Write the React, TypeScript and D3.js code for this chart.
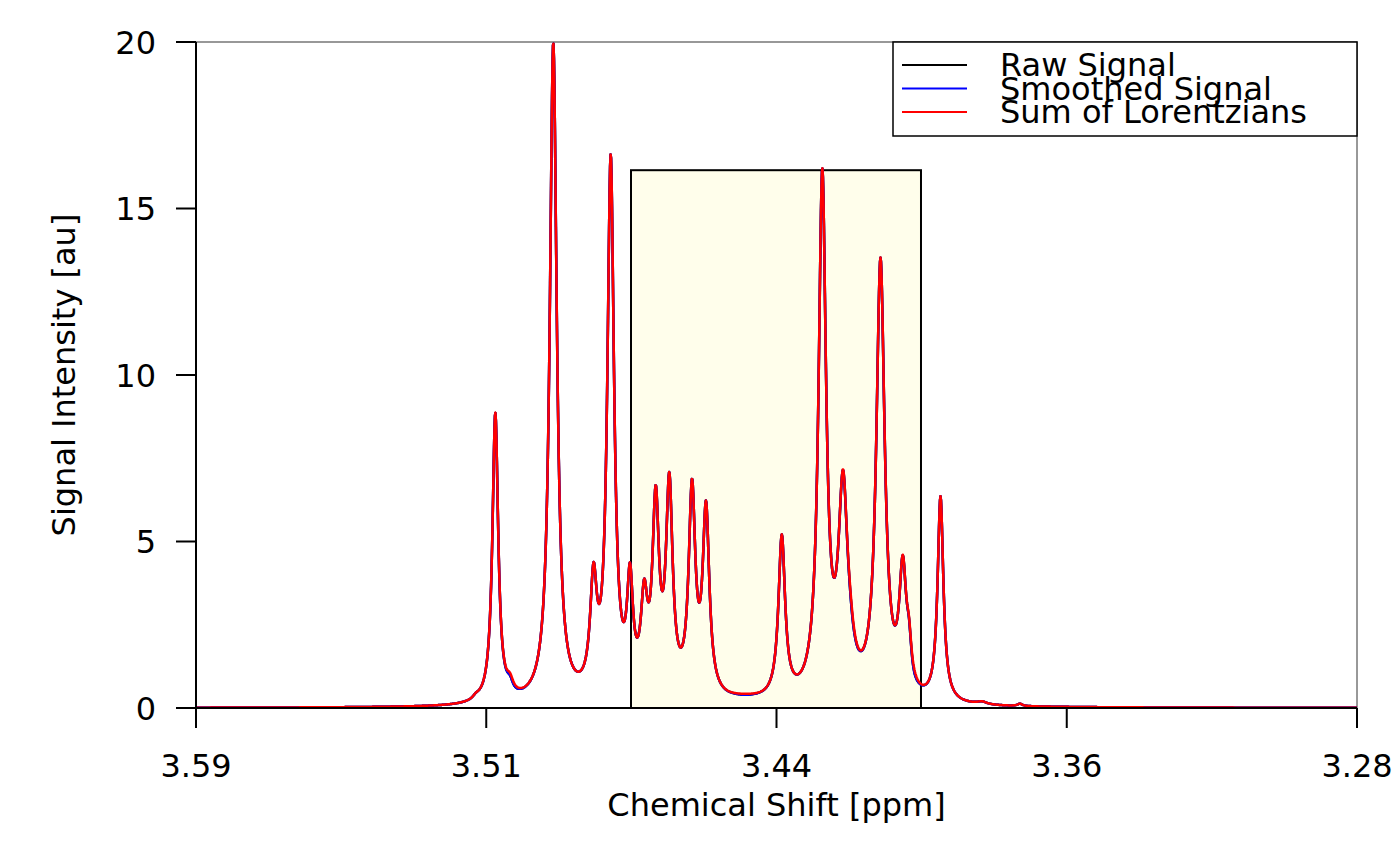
import React from "react";
import * as d3 from "d3";

// ---- Data ----
// Fitted Lorentzian components: chemical shift (ppm), height (au), half width (ppm)
const peakShift = [
  3.51524, 3.51008, 3.50616, 3.4946, 3.48386, 3.47927, 3.47412, 3.47033, 3.46725,
  3.46362, 3.45756, 3.45382, 3.44341, 3.43359, 3.42277, 3.41724, 3.41537, 3.40723,
  3.40128, 3.39962, 3.39121, 3.38013, 3.36998,
];
const peakHeight = [
  0.09, 8.7, 0.35, 19.8, 3.2, 16.1, 3.15, 2.55, 5.55,
  6.15, 6.06, 5.5, 0.12, 4.83, 15.6, 5.95, 0.6, 13.1,
  3.6, 1.0, 6.15, 0.08, 0.07,
];
const peakWidth = [
  0.00107, 0.00093, 0.00107, 0.00112, 0.00107, 0.00107, 0.00095, 0.00107, 0.00107,
  0.00107, 0.00107, 0.00107, 0.0067, 0.00107, 0.0012, 0.00147, 0.00134, 0.00134,
  0.00115, 0.0008, 0.00093, 0.0016, 0.0008,
];
// Small differences of the measured (raw / smoothed) signal from the fit
const residualShift = [3.5058, 3.4434, 3.415, 3.3985];
const residualHeight = [-0.08, -0.03, -0.12, -0.1];
const residualWidth = [0.0016, 0.0027, 0.0011, 0.0011];

// Integration region (highlighted box)
const regionStart = 3.47385;
const regionEnd = 3.39642;
const regionTop = 16.15;

const xDomain = [3.59, 3.28];
const yDomain = [0, 20];
const xTickValues = [3.59, 3.5125, 3.435, 3.3575, 3.28];
const xTickLabels = ["3.59", "3.51", "3.44", "3.36", "3.28"];
const yTickValues = [0, 5, 10, 15, 20];

const seriesNames = ["Raw Signal", "Smoothed Signal", "Sum of Lorentzians"];
const seriesColors = ["#000000", "#0000ff", "#ff0000"];

// ---- Layout ----
const W = 1400;
const H = 866;
const left = 196;
const right = 1357;
const top = 42;
const bottom = 708;
const FONT = "'DejaVu Sans', sans-serif";
const FS = 32;

function lorentzSum(x: number, shifts: number[], heights: number[], widths: number[]) {
  let s = 0;
  for (let i = 0; i < shifts.length; i++) {
    const u = (x - shifts[i]) / widths[i];
    s += heights[i] / (1 + u * u);
  }
  return s;
}

export default function App() {
  const x = d3.scaleLinear().domain(xDomain).range([left, right]);
  const y = d3.scaleLinear().domain(yDomain).range([bottom, top]);

  const n = 2400;
  const grid = d3.range(n + 1).map((i) => xDomain[0] + ((xDomain[1] - xDomain[0]) * i) / n);
  const fit = grid.map((p) => [p, lorentzSum(p, peakShift, peakHeight, peakWidth)] as [number, number]);
  const measured = grid.map(
    (p, i) => [p, fit[i][1] + lorentzSum(p, residualShift, residualHeight, residualWidth)] as [number, number]
  );
  const seriesData = [measured, measured, fit];

  const line = d3
    .line<[number, number]>()
    .x((d) => x(d[0]))
    .y((d) => y(d[1]));

  return (
    <svg
      width={W}
      height={H}
      style={{ position: "absolute", left: 0, top: 0, background: "#fff" }}
      fontFamily={FONT}
    >
      <defs>
        <clipPath id="plotClip">
          <rect x={left} y={top - 2} width={right - left} height={bottom - top + 2} />
        </clipPath>
      </defs>
      {/* plot box (thin) */}
      <rect x={left} y={top} width={right - left} height={bottom - top} fill="none" stroke="#333" strokeWidth={1} />
      {/* region */}
      <rect
        x={x(regionStart)}
        y={y(regionTop)}
        width={x(regionEnd) - x(regionStart)}
        height={y(0) - y(regionTop)}
        fill="#fffeeb"
        stroke="#000"
        strokeWidth={2}
      />
      {/* series */}
      <g clipPath="url(#plotClip)">
        {seriesData.map((d, i) => (
          <path
            key={i}
            d={line(d) || ""}
            fill="none"
            stroke={seriesColors[i]}
            strokeWidth={2.5}
            strokeLinejoin="round"
          />
        ))}
      </g>
      {/* x axis */}
      <line x1={x(xTickValues[0])} x2={x(xTickValues[xTickValues.length - 1])} y1={bottom} y2={bottom} stroke="#000" strokeWidth={2} />
      {xTickValues.map((t, i) => (
        <g key={i}>
          <line x1={x(t)} x2={x(t)} y1={bottom} y2={bottom + 20} stroke="#000" strokeWidth={2} />
          <text x={x(t)} y={777} textAnchor="middle" fontSize={FS}>
            {xTickLabels[i]}
          </text>
        </g>
      ))}
      {/* y axis */}
      <line x1={left} x2={left} y1={y(yTickValues[0])} y2={y(yTickValues[yTickValues.length - 1])} stroke="#000" strokeWidth={2} />
      {yTickValues.map((t, i) => (
        <g key={i}>
          <line x1={left - 20} x2={left} y1={y(t)} y2={y(t)} stroke="#000" strokeWidth={2} />
          <text x={156} y={y(t) + 11.5} textAnchor="end" fontSize={FS}>
            {String(t)}
          </text>
        </g>
      ))}
      {/* axis titles */}
      <text x={(left + right) / 2} y={816} textAnchor="middle" fontSize={FS}>
        Chemical Shift [ppm]
      </text>
      <text
        transform={`translate(75, ${(top + bottom) / 2}) rotate(-90)`}
        textAnchor="middle"
        fontSize={FS}
      >
        Signal Intensity [au]
      </text>
      {/* legend */}
      <rect x={893} y={42} width={right - 893} height={94} fill="#fff" stroke="#000" strokeWidth={1.5} />
      {seriesNames.map((name, i) => (
        <g key={name}>
          <line x1={902} x2={967} y1={65 + i * 23.5} y2={65 + i * 23.5} stroke={seriesColors[i]} strokeWidth={2} />
          <text x={1000} y={76 + i * 23.5} fontSize={FS}>
            {name}
          </text>
        </g>
      ))}
    </svg>
  );
}
